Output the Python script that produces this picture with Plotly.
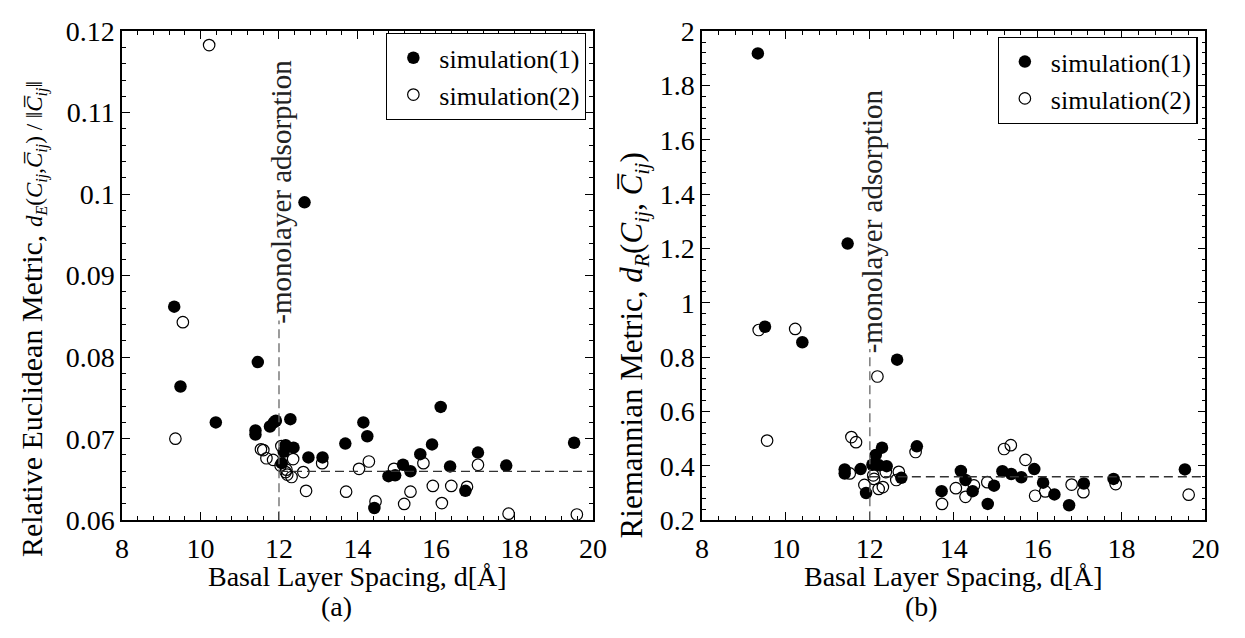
import plotly.graph_objects as go

# ---------------- data ----------------
# Panel (a): relative Euclidean metric
a_sim1_d = [9.33, 9.49, 10.39, 11.40, 11.40, 11.46, 11.77, 11.87, 11.92, 12.07, 12.12,
            12.17, 12.29, 12.37, 12.65, 12.75, 13.11, 13.69, 14.15, 14.25, 14.43, 14.79,
            14.96, 15.16, 15.35, 15.60, 15.90, 16.12, 16.36, 16.75, 17.07, 17.79, 19.52]
a_sim1_v = [0.0862, 0.0764, 0.0720, 0.0710, 0.0705, 0.0794, 0.0715, 0.0720, 0.0722, 0.0670, 0.0684,
            0.0692, 0.0724, 0.0689, 0.0990, 0.0677, 0.0677, 0.0694, 0.0720, 0.0703, 0.0615, 0.0654,
            0.0655, 0.0668, 0.0660, 0.0681, 0.0693, 0.0739, 0.0666, 0.0636, 0.0683, 0.0667, 0.0695]

a_sim2_d = [9.36, 9.55, 10.22, 11.54, 11.60, 11.68, 11.85, 12.06, 12.04, 12.17, 12.21,
            12.32, 12.36, 12.62, 12.69, 13.10, 13.71, 14.04, 14.29, 14.46, 14.93, 15.19,
            15.35, 15.68, 15.92, 16.15, 16.39, 16.79, 17.07, 17.85, 19.59, 12.19]
a_sim2_v = [0.0700, 0.0843, 0.1183, 0.0687, 0.0686, 0.0676, 0.0674, 0.0691, 0.0667, 0.0659, 0.0656,
            0.0653, 0.0675, 0.0659, 0.0636, 0.0670, 0.0635, 0.0663, 0.0672, 0.0623, 0.0663, 0.0620,
            0.0635, 0.0670, 0.0642, 0.0621, 0.0642, 0.0641, 0.0668, 0.0608, 0.0607, 0.0662]

# Panel (b): Riemannian metric
b_sim1_d = [9.33, 9.50, 10.39, 11.47, 12.65, 11.40, 11.40, 11.78, 11.91, 12.06, 12.14, 12.29,
            12.22, 12.40, 12.75, 13.12, 13.71, 14.17, 14.28, 14.45, 14.81, 14.96, 15.16,
            15.37, 15.61, 15.92, 16.13, 16.40, 16.75, 17.10, 17.81, 19.51]
b_sim1_v = [1.918, 0.912, 0.855, 1.218, 0.791, 0.387, 0.372, 0.388, 0.300, 0.404, 0.440, 0.467,
            0.402, 0.399, 0.356, 0.472, 0.307, 0.381, 0.348, 0.307, 0.260, 0.327, 0.380,
            0.370, 0.358, 0.388, 0.338, 0.295, 0.255, 0.335, 0.352, 0.387]

b_sim2_d = [9.35, 10.22, 12.18, 9.55, 11.56, 11.67, 11.52, 11.87, 12.08, 12.10, 12.21, 12.31,
            12.38, 12.69, 12.63, 13.09, 13.72, 14.05, 14.28, 14.48, 14.80, 15.20, 15.36,
            15.71, 15.94, 16.18, 16.81, 17.09, 17.86, 19.60]
b_sim2_v = [0.900, 0.904, 0.729, 0.493, 0.506, 0.487, 0.372, 0.330, 0.365, 0.352, 0.315, 0.322,
            0.377, 0.378, 0.348, 0.451, 0.260, 0.318, 0.286, 0.328, 0.340, 0.462, 0.476,
            0.422, 0.290, 0.306, 0.331, 0.303, 0.333, 0.294]

monolayer_d = 12.0
a_ref_level = 0.066
b_ref_level = 0.36
x_ticks = [8, 10, 12, 14, 16, 18, 20]
a_y_ticks = [0.06, 0.07, 0.08, 0.09, 0.10, 0.11, 0.12]
a_y_text = ["0.06", "0.07", "0.08", "0.09", "0.1", "0.11", "0.12"]
b_y_ticks = [0.2, 0.4, 0.6, 0.8, 1.0, 1.2, 1.4, 1.6, 1.8, 2.0]
b_y_text = ["0.2", "0.4", "0.6", "0.8", "1", "1.2", "1.4", "1.6", "1.8", "2"]

# ---------------- figure ----------------
W, H = 1245, 638
FONT = "Liberation Serif, Times New Roman, serif"
FS_TICK = 28
FS = 28

def px_x(p):
    return p / W

def px_y(p):
    return 1 - p / H

dom_a_x = [px_x(117), px_x(596)]
dom_b_x = [px_x(707), px_x(1219)]
dom_y = [px_y(531), px_y(17)]

fig = go.Figure()

open_marker = dict(symbol="circle-open", size=11.5, color="black", line=dict(width=1.2, color="black"))
fill_marker = dict(symbol="circle", size=12.5, color="black", line=dict(width=0))

fig.add_trace(go.Scatter(x=a_sim2_d, y=a_sim2_v, mode="markers", marker=open_marker,
                         name="simulation(2)", xaxis="x", yaxis="y", legend="legend", legendrank=2))
fig.add_trace(go.Scatter(x=a_sim1_d, y=a_sim1_v, mode="markers", marker=fill_marker,
                         name="simulation(1)", xaxis="x", yaxis="y", legend="legend", legendrank=1))
fig.add_trace(go.Scatter(x=b_sim2_d, y=b_sim2_v, mode="markers", marker=open_marker,
                         name="simulation(2)", xaxis="x2", yaxis="y2", legend="legend2", legendrank=2))
fig.add_trace(go.Scatter(x=b_sim1_d, y=b_sim1_v, mode="markers", marker=fill_marker,
                         name="simulation(1)", xaxis="x2", yaxis="y2", legend="legend2", legendrank=1))

axis_common = dict(showline=True, linecolor="black", linewidth=1.5, mirror="allticks",
                   ticks="inside", ticklen=8, tickwidth=1.2, tickcolor="black",
                   showgrid=False, zeroline=False,
                   tickfont=dict(family=FONT, size=FS_TICK, color="black"))

legend_common = dict(xanchor="right", yanchor="top", bordercolor="black", borderwidth=1.3,
                     bgcolor="white", font=dict(family=FONT, size=26), itemwidth=42,
                     tracegroupgap=0)

fig.update_layout(
    width=W, height=H, margin=dict(l=0, r=0, t=0, b=0),
    plot_bgcolor="white", paper_bgcolor="white",
    font=dict(family=FONT, size=FS, color="black"),
    xaxis=dict(domain=dom_a_x, anchor="y", range=[8, 20], tickvals=x_ticks, ticklabelstandoff=2,
               minor=dict(dtick=0.4, ticks="inside", ticklen=4, tickcolor="black", showgrid=False),
               **axis_common),
    yaxis=dict(domain=dom_y, anchor="x", range=[0.06, 0.12], tickvals=a_y_ticks, ticktext=a_y_text,
               minor=dict(dtick=0.002, ticks="inside", ticklen=4, tickcolor="black", showgrid=False),
               **axis_common),
    xaxis2=dict(domain=dom_b_x, anchor="y2", range=[8, 20], tickvals=x_ticks, ticklabelstandoff=2,
                minor=dict(dtick=0.4, ticks="inside", ticklen=4, tickcolor="black", showgrid=False),
                **axis_common),
    yaxis2=dict(domain=dom_y, anchor="x2", range=[0.2, 2.0], tickvals=b_y_ticks, ticktext=b_y_text,
                minor=dict(dtick=0.04, ticks="inside", ticklen=4, tickcolor="black", showgrid=False),
                **axis_common),
    legend=dict(x=px_x(589), y=px_y(19), **legend_common),
    legend2=dict(x=px_x(1211), y=px_y(23), **legend_common),
    showlegend=True,
)

# reference lines
vdash = dict(color="#666666", width=1.3, dash="9px,5px")
hdash = dict(color="#333333", width=1.3, dash="9px,5px")
fig.add_shape(type="line", xref="x", yref="y", x0=monolayer_d, x1=monolayer_d, y0=0.06, y1=0.0845, line=vdash)
fig.add_shape(type="line", xref="x", yref="y", x0=monolayer_d, x1=20, y0=a_ref_level, y1=a_ref_level, line=hdash)
fig.add_shape(type="line", xref="x2", yref="y2", x0=monolayer_d, x1=monolayer_d, y0=0.2, y1=0.83, line=vdash)
fig.add_shape(type="line", xref="x2", yref="y2", x0=monolayer_d, x1=20, y0=b_ref_level, y1=b_ref_level, line=hdash)

# rotated labels
fig.add_annotation(xref="x", yref="y", x=12.05, y=0.1003, text="-monolayer adsorption",
                   textangle=-90, showarrow=False, xanchor="center", yanchor="middle",
                   font=dict(family=FONT, size=29, color="#222222"))
fig.add_annotation(xref="x2", yref="y2", x=12.05, y=1.30, text="-monolayer adsorption",
                   textangle=-90, showarrow=False, xanchor="center", yanchor="middle",
                   font=dict(family=FONT, size=29, color="#222222"))

# axis titles
xt = "Basal Layer Spacing, d[Å]"
fig.add_annotation(xref="paper", yref="paper", x=(dom_a_x[0] + dom_a_x[1]) / 2, y=px_y(590),
                   text=xt, showarrow=False, xanchor="center", yanchor="middle", font=dict(size=FS))
fig.add_annotation(xref="paper", yref="paper", x=(dom_b_x[0] + dom_b_x[1]) / 2, y=px_y(590),
                   text=xt, showarrow=False, xanchor="center", yanchor="middle", font=dict(size=FS))

cbar = "C\u0305"
ya = ("Relative Euclidean Metric, <span style='font-size:23px'><i>d<sub>E</sub></i>(<i>C<sub>ij</sub></i>,"
      "<i>" + cbar + "<sub>ij</sub></i>) / ‖<i>" + cbar + "<sub>ij</sub></i>‖</span>")
fig.add_annotation(xref="paper", yref="paper", x=px_x(27), y=px_y(320), text=ya, textangle=-90,
                   showarrow=False, xanchor="center", yanchor="middle", font=dict(size=30))
yb = ("Riemannian Metric, <i>d<sub>R</sub></i>(<i>C<sub>ij</sub></i>, <i>" + cbar + "<sub>ij</sub></i>)")
fig.add_annotation(xref="paper", yref="paper", x=px_x(638), y=px_y(347), text=yb, textangle=-90,
                   showarrow=False, xanchor="center", yanchor="middle", font=dict(size=31))

# captions
fig.add_annotation(xref="paper", yref="paper", x=px_x(335), y=px_y(622), text="(a)",
                   showarrow=False, xanchor="center", yanchor="middle", font=dict(size=FS))
fig.add_annotation(xref="paper", yref="paper", x=px_x(930), y=px_y(622), text="(b)",
                   showarrow=False, xanchor="center", yanchor="middle", font=dict(size=FS))

fig.write_html("out.html")
